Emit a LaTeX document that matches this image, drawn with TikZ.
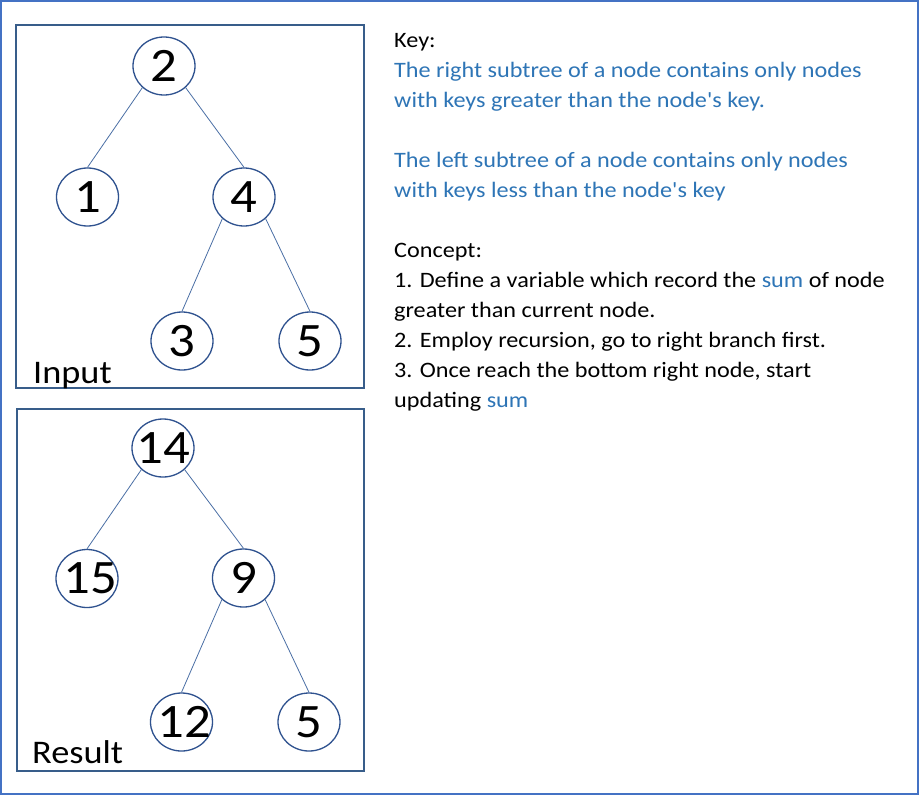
\documentclass[tikz,border=0pt]{standalone}
\usepackage{fontspec}
\setmainfont{Carlito}[FakeStretch=1.1]
\newfontfamily\plainfont{Carlito}[FakeStretch=1.1]
\usetikzlibrary{shapes.geometric}
\definecolor{outerblue}{HTML}{4472C4}
\definecolor{boxblue}{HTML}{385D8A}
\definecolor{ellblue}{HTML}{2F528F}
\definecolor{edgeblue}{HTML}{4A6FA5}
\definecolor{textblue}{HTML}{2E75B6}
\tikzset{
  treenode/.style={ellipse, draw=ellblue, line width=1.3pt, fill=white,
    minimum width=62pt, minimum height=58pt, inner sep=0pt,
    font=\fontsize{48}{48}\selectfont},
  treeedge/.style={draw=edgeblue, line width=0.8pt},
  framebox/.style={draw=boxblue, line width=2pt},
  txtline/.style={anchor=base west, inner sep=0pt, font=\plainfont\fontsize{22}{30}\selectfont},
  bluetxt/.style={txtline, text=textblue},
  boxlabel/.style={anchor=base west, inner sep=0pt, font=\fontsize{33}{33}\selectfont}
}
\newcommand{\nb}[1]{\makebox[0pt]{#1}}
\begin{document}
\begin{tikzpicture}[x=1pt,y=-1pt]
\useasboundingbox (0,0) rectangle (921,798);
\fill[white] (0,0) rectangle (921,798);
\draw[draw=outerblue, line width=2pt] (1,1) rectangle (917.5,793.7);
% boxes
\draw[framebox] (16,25) rectangle (363.7,388);
\draw[framebox] (17,409) rectangle (363.5,771);
% input tree
\node[treenode] (n2) at (164,66) {\nb{2}};
\node[treenode] (n1) at (87.5,197) {\nb{1}};
\node[treenode] (n4) at (244,197) {\nb{4}};
\node[treenode] (n3) at (182,341) {\nb{3}};
\node[treenode] (n5) at (310,341) {\nb{5}};
\draw[treeedge] (n2.225) -- (n1.north);
\draw[treeedge] (n2.315) -- (n4.north);
\draw[treeedge] (n4.225) -- (n3.north);
\draw[treeedge] (n4.315) -- (n5.north);
\node[boxlabel] (lin) at (33,383) {Input};
% result tree
\node[treenode] (r14) at (163,448) {\nb{14}};
\node[treenode] (r15) at (87,578.5) {\nb{\hspace{6pt}15}};
\node[treenode] (r9) at (243.5,578) {\nb{9}};
\node[treenode] (r12) at (181.5,722) {\nb{\hspace{6pt}12}};
\node[treenode] (r5) at (309,722) {\nb{5}};
\draw[treeedge] (r14.225) -- (r15.north);
\draw[treeedge] (r14.315) -- (r9.north);
\draw[treeedge] (r9.225) -- (r12.north);
\draw[treeedge] (r9.315) -- (r5.north);
\node[boxlabel] (lres) at (32,763) {Result};
% text
\node[txtline] (t1) at (394,47) {Key:};
\node[bluetxt] (t2) at (394,77) {The right subtree of a node contains only nodes};
\node[bluetxt] (t3) at (394,107) {with keys greater than the node's key.};
\node[bluetxt] (t4) at (394,167) {The left subtree of a node contains only nodes};
\node[bluetxt] (t5) at (394,197) {with keys less than the node's key};
\node[txtline] (t6) at (394,257) {Concept:};
\node[txtline] (t7) at (394,287) {1. Define a variable which record the \textcolor{textblue}{sum} of node};
\node[txtline] (t8) at (394,317) {greater than current node.};
\node[txtline] (t9) at (394,347) {2. Employ recursion, go to right branch first.};
\node[txtline] (t10) at (394,377) {3. Once reach the bottom right node, start};
\node[txtline] (t11) at (394,407) {updating \textcolor{textblue}{sum}};
\end{tikzpicture}
\end{document}
